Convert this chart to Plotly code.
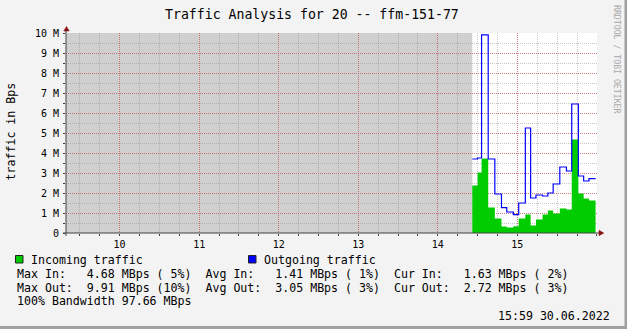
import plotly.graph_objects as go

# ---------------- data ----------------
title_text = "Traffic Analysis for 20 -- ffm-151-77"
y_axis_title = "traffic in Bps"
x_tick_vals = [10, 11, 12, 13, 14, 15]
x_tick_text = ["10", "11", "12", "13", "14", "15"]
y_tick_vals = [0, 1, 2, 3, 4, 5, 6, 7, 8, 9, 10]
y_tick_text = ["0", "1 M", "2 M", "3 M", "4 M", "5 M", "6 M", "7 M", "8 M", "9 M", "10 M"]

# step boundaries (HH:MM), one more than the values
time_edges = ["14:26", "14:30", "14:33", "14:38", "14:43", "14:48", "14:52",
              "14:57", "15:01", "15:06", "15:10", "15:14", "15:19", "15:23",
              "15:27", "15:32", "15:37", "15:41", "15:46", "15:50", "15:54",
              "15:59"]
incoming_mbps = [2.37, 3.02, 3.72, 1.27, 0.72, 0.32, 0.27, 0.34, 0.72, 0.92,
                 0.37, 0.67, 0.92, 1.12, 0.97, 1.22, 1.17, 4.68, 1.97, 1.72,
                 1.63]
outgoing_mbps = [3.70, 3.75, 9.91, 3.70, 1.95, 1.27, 1.05, 0.92, 1.50, 5.25,
                 1.75, 1.90, 1.85, 2.00, 2.45, 3.30, 3.10, 6.45, 2.85, 2.60,
                 2.72]

legend_labels = ["Incoming traffic", "Outgoing traffic"]
stats_in = ["4.68", " 5%", "1.41", " 1%", "1.63", " 2%"]
stats_out = ["9.91", "10%", "3.05", " 3%", "2.72", " 3%"]
bandwidth = "97.66"
timestamp = "15:59 30.06.2022"
watermark = "RRDTOOL / TOBI OETIKER"

# ---------------- styling ----------------
W, H = 627, 329
L, R, T, B = 66, 30, 33, 96
PW, PH = W - L - R, H - T - B
BG = "#f3f3f3"
UNKNOWN = "#d0d0d0"
GREEN = "#00cc00"
BLUE = "#0000ff"
MAJ = "rgba(215,70,70,0.55)"
MIN = "rgba(130,130,130,0.45)"
AXIS = "#404040"
ARROW = "#8b1010"
MONO = "DejaVu Sans Mono"
NB = "\u00a0"


def px_x(px):
    return (px - L) / PW


def px_y(py):
    return (H - B - py) / PH


def hours(s):
    h, m = s.split(":")
    return int(h) + int(m) / 60.0


x_edges = [hours(t) for t in time_edges]
y_in = incoming_mbps + [incoming_mbps[-1]]
y_out = outgoing_mbps + [outgoing_mbps[-1]]
x_range = [9.326, 16.001]

fig = go.Figure()
fig.add_trace(go.Scatter(x=x_edges, y=y_in, mode="lines",
                         line=dict(shape="hv", width=0, color=GREEN),
                         fill="tozeroy", fillcolor=GREEN, hoverinfo="skip"))
fig.add_trace(go.Scatter(x=x_edges, y=y_out, mode="lines",
                         line=dict(shape="hv", width=1.2, color=BLUE),
                         hoverinfo="skip"))

shapes = []
# unknown-data region
shapes.append(dict(type="rect", xref="x", yref="y", x0=x_range[0], x1=x_edges[0],
                   y0=0, y1=10, fillcolor=UNKNOWN, line=dict(width=0), layer="below"))
# axis lines
shapes.append(dict(type="line", xref="paper", yref="paper", x0=px_x(63), x1=px_x(599),
                   y0=0, y1=0, line=dict(color=AXIS, width=1)))
shapes.append(dict(type="line", xref="paper", yref="paper", x0=0, x1=0,
                   y0=px_y(236), y1=px_y(30), line=dict(color=AXIS, width=1)))
# arrows
shapes.append(dict(type="path", xref="paper", yref="paper",
                   path=f"M {px_x(66.5)} {px_y(26.5)} L {px_x(63.8)} {px_y(31)} L {px_x(69.2)} {px_y(31)} Z",
                   fillcolor=ARROW, line=dict(color=ARROW, width=0.5)))
shapes.append(dict(type="path", xref="paper", yref="paper",
                   path=f"M {px_x(599)} {px_y(230.3)} L {px_x(603.8)} {px_y(233)} L {px_x(599)} {px_y(235.7)} Z",
                   fillcolor=ARROW, line=dict(color=ARROW, width=0.5)))
# legend swatches
shapes.append(dict(type="rect", xref="paper", yref="paper", x0=px_x(15.5), x1=px_x(23),
                   y0=px_y(263), y1=px_y(255.5), fillcolor=GREEN, line=dict(color="#222", width=1)))
shapes.append(dict(type="rect", xref="paper", yref="paper", x0=px_x(248.5), x1=px_x(256),
                   y0=px_y(263), y1=px_y(255.5), fillcolor=BLUE, line=dict(color="#222", width=1)))
# frame (right / bottom shadow)
shapes.append(dict(type="rect", xref="paper", yref="paper", x0=px_x(624.5), x1=px_x(627),
                   y0=px_y(329), y1=px_y(0), fillcolor="#a0a0a0", line=dict(width=0)))
shapes.append(dict(type="rect", xref="paper", yref="paper", x0=px_x(0), x1=px_x(627),
                   y0=px_y(329), y1=px_y(326), fillcolor="#a0a0a0", line=dict(width=0)))

annotations = []


def text_at(txt, x, y, size=11.6, xanchor="left", color="#000", angle=0, family=MONO):
    annotations.append(dict(text=txt, xref="paper", yref="paper", x=px_x(x), y=px_y(y),
                            xanchor=xanchor, yanchor="middle", showarrow=False,
                            textangle=angle, font=dict(family=family, size=size, color=color),
                            borderpad=0))


def mono(s):
    return s.replace(" ", NB)


text_at(title_text, 311.5, 14, size=13.2, xanchor="center")
text_at(mono(y_axis_title), 10.5, 132, size=11.6, xanchor="center", angle=-90)
text_at(watermark, 617, 59, size=8.2, xanchor="center", color="#a8a8a8", angle=90)

text_at(legend_labels[0], 30, 259.5)
text_at(legend_labels[1], 262.5, 259.5)

row_in = (f"Max In:   {stats_in[0]} MBps ({stats_in[1]})  "
          f"Avg In:   {stats_in[2]} MBps ({stats_in[3]})  "
          f"Cur In:   {stats_in[4]} MBps ({stats_in[5]})")
row_out = (f"Max Out:  {stats_out[0]} MBps ({stats_out[1]})  "
           f"Avg Out:  {stats_out[2]} MBps ({stats_out[3]})  "
           f"Cur Out:  {stats_out[4]} MBps ({stats_out[5]})")
text_at(mono(row_in), 15.5, 274)
text_at(mono(row_out), 15.5, 288)
text_at(mono(f"100% Bandwidth {bandwidth} MBps"), 15.5, 301.3)
text_at(mono(timestamp), 610.5, 316, xanchor="right")

fig.update_layout(
    width=W, height=H,
    margin=dict(l=L, r=R, t=T, b=B, pad=0),
    paper_bgcolor=BG, plot_bgcolor="#ffffff",
    showlegend=False,
    shapes=shapes, annotations=annotations,
    xaxis=dict(range=x_range, tickmode="array", tickvals=x_tick_vals, ticktext=x_tick_text,
               showgrid=True, gridcolor=MAJ, griddash="1px,1px", gridwidth=1,
               ticks="outside", ticklen=2, tickcolor=AXIS, showline=False, zeroline=False,
               tickfont=dict(family=MONO, size=10, color="#000"),
               minor=dict(tickmode="linear", tick0=0, dtick=0.25, showgrid=True,
                          gridcolor=MIN, griddash="1px,1px", ticks="outside", ticklen=2,
                          tickcolor=AXIS),
               fixedrange=True),
    yaxis=dict(range=[0, 10], tickmode="array", tickvals=y_tick_vals, ticktext=y_tick_text,
               showgrid=True, gridcolor=MAJ, griddash="1px,1px", gridwidth=1,
               ticks="outside", ticklen=2, tickcolor=AXIS, showline=False, zeroline=False,
               ticklabelstandoff=2,
               tickfont=dict(family=MONO, size=10, color="#000"),
               minor=dict(tickmode="linear", tick0=0, dtick=0.5, showgrid=True,
                          gridcolor=MIN, griddash="1px,1px", ticks="outside", ticklen=2,
                          tickcolor=AXIS),
               fixedrange=True),
)

fig.write_html("out.html", config={"displayModeBar": False})
